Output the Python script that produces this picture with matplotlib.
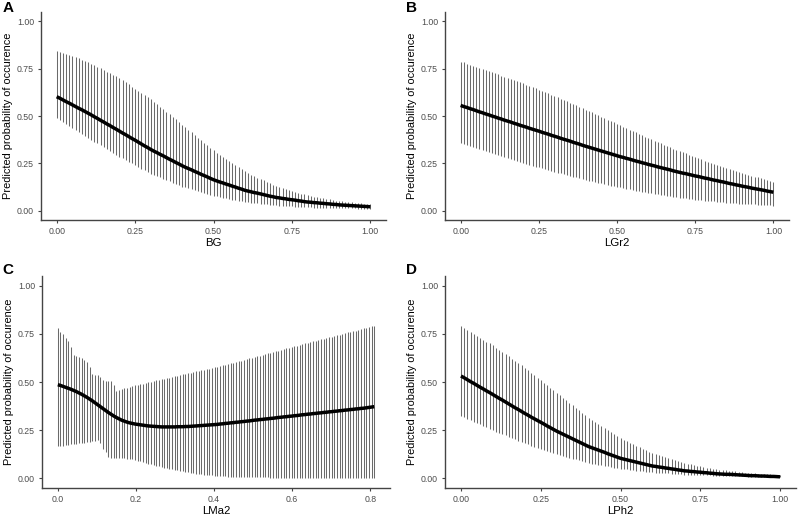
import numpy as np
import matplotlib
matplotlib.use("Agg")
import matplotlib.pyplot as plt

plt.rcParams["font.family"] = ["Liberation Sans", "DejaVu Sans"]

# prediction grids (0..1 by 0.01; LMa2 0..0.81 in 120 steps)
x_unit = np.linspace(0, 1, 101)
x_lma2 = np.linspace(0, 0.81, 120)

# === A: BG ===
bg_fit = [0.602, 0.594, 0.585, 0.576, 0.568, 0.559, 0.550, 0.541, 0.533, 0.524, 0.515,
          0.506, 0.496, 0.487, 0.477, 0.468, 0.458, 0.449, 0.439, 0.430, 0.420,
          0.410, 0.401, 0.391, 0.381, 0.372, 0.362, 0.352, 0.342, 0.333, 0.323,
          0.314, 0.306, 0.297, 0.289, 0.280, 0.271, 0.263, 0.254, 0.246, 0.237,
          0.229, 0.222, 0.215, 0.207, 0.200, 0.192, 0.185, 0.178, 0.170, 0.163,
          0.157, 0.151, 0.146, 0.140, 0.135, 0.129, 0.124, 0.118, 0.113, 0.107,
          0.103, 0.099, 0.095, 0.092, 0.088, 0.084, 0.080, 0.076, 0.073, 0.069,
          0.067, 0.064, 0.062, 0.059, 0.057, 0.055, 0.052, 0.050, 0.047, 0.045,
          0.044, 0.042, 0.041, 0.039, 0.038, 0.036, 0.035, 0.033, 0.032, 0.030,
          0.029, 0.028, 0.027, 0.026, 0.025, 0.024, 0.023, 0.022, 0.021, 0.020]
bg_hi = [0.843, 0.838, 0.833, 0.828, 0.822, 0.816, 0.810, 0.805, 0.798, 0.792, 0.785,
         0.777, 0.769, 0.760, 0.752, 0.743, 0.735, 0.726, 0.718, 0.709, 0.700,
         0.690, 0.679, 0.668, 0.656, 0.645, 0.634, 0.622, 0.611, 0.599, 0.588,
         0.575, 0.562, 0.548, 0.535, 0.522, 0.508, 0.495, 0.482, 0.468, 0.455,
         0.441, 0.428, 0.414, 0.400, 0.386, 0.373, 0.359, 0.345, 0.332, 0.318,
         0.306, 0.294, 0.283, 0.272, 0.261, 0.250, 0.239, 0.228, 0.218, 0.207,
         0.198, 0.190, 0.182, 0.174, 0.166, 0.159, 0.151, 0.144, 0.137, 0.130,
         0.124, 0.119, 0.114, 0.109, 0.104, 0.099, 0.094, 0.089, 0.085, 0.080,
         0.077, 0.074, 0.071, 0.068, 0.065, 0.062, 0.059, 0.056, 0.053, 0.050,
         0.048, 0.046, 0.045, 0.043, 0.042, 0.040, 0.039, 0.037, 0.036, 0.034]
bg_lo = [0.487, 0.477, 0.467, 0.456, 0.446, 0.436, 0.426, 0.416, 0.405, 0.395, 0.385,
         0.375, 0.365, 0.355, 0.345, 0.335, 0.325, 0.315, 0.305, 0.295, 0.285,
         0.276, 0.267, 0.258, 0.249, 0.240, 0.231, 0.222, 0.213, 0.204, 0.195,
         0.188, 0.181, 0.175, 0.168, 0.161, 0.154, 0.147, 0.141, 0.134, 0.127,
         0.122, 0.117, 0.112, 0.107, 0.102, 0.098, 0.093, 0.088, 0.083, 0.078,
         0.075, 0.071, 0.068, 0.065, 0.061, 0.058, 0.055, 0.051, 0.048, 0.045,
         0.043, 0.041, 0.040, 0.038, 0.036, 0.034, 0.032, 0.031, 0.029, 0.027,
         0.026, 0.025, 0.024, 0.023, 0.022, 0.021, 0.020, 0.019, 0.018, 0.017,
         0.017, 0.016, 0.016, 0.015, 0.015, 0.014, 0.014, 0.013, 0.013, 0.012,
         0.012, 0.012, 0.011, 0.011, 0.011, 0.010, 0.010, 0.010, 0.009, 0.009]

# === B: LGr2 ===
lgr2_fit = [0.556, 0.550, 0.545, 0.539, 0.534, 0.528, 0.522, 0.517, 0.511, 0.506, 0.500,
            0.495, 0.489, 0.484, 0.478, 0.473, 0.468, 0.462, 0.457, 0.451, 0.446,
            0.441, 0.435, 0.430, 0.425, 0.420, 0.414, 0.409, 0.404, 0.398, 0.393,
            0.388, 0.382, 0.377, 0.372, 0.367, 0.361, 0.356, 0.351, 0.345, 0.340,
            0.335, 0.330, 0.325, 0.320, 0.315, 0.310, 0.305, 0.300, 0.295, 0.290,
            0.285, 0.281, 0.276, 0.272, 0.267, 0.262, 0.258, 0.253, 0.249, 0.244,
            0.240, 0.236, 0.231, 0.227, 0.223, 0.219, 0.215, 0.210, 0.206, 0.202,
            0.198, 0.195, 0.191, 0.187, 0.183, 0.180, 0.176, 0.172, 0.169, 0.165,
            0.161, 0.158, 0.154, 0.151, 0.147, 0.143, 0.140, 0.136, 0.133, 0.129,
            0.126, 0.123, 0.119, 0.116, 0.113, 0.110, 0.107, 0.103, 0.100, 0.097]
lgr2_hi = [0.788, 0.783, 0.777, 0.772, 0.766, 0.760, 0.755, 0.749, 0.743, 0.738, 0.732,
           0.726, 0.720, 0.714, 0.708, 0.702, 0.696, 0.690, 0.684, 0.678, 0.672,
           0.665, 0.659, 0.652, 0.646, 0.639, 0.632, 0.626, 0.619, 0.613, 0.606,
           0.599, 0.592, 0.584, 0.577, 0.570, 0.563, 0.556, 0.548, 0.541, 0.534,
           0.526, 0.519, 0.511, 0.504, 0.496, 0.488, 0.481, 0.473, 0.466, 0.458,
           0.451, 0.443, 0.436, 0.428, 0.421, 0.414, 0.406, 0.399, 0.391, 0.384,
           0.377, 0.370, 0.363, 0.356, 0.349, 0.342, 0.335, 0.328, 0.321, 0.314,
           0.308, 0.302, 0.295, 0.289, 0.283, 0.277, 0.271, 0.264, 0.258, 0.252,
           0.247, 0.241, 0.236, 0.230, 0.225, 0.220, 0.214, 0.209, 0.203, 0.198,
           0.193, 0.189, 0.184, 0.179, 0.175, 0.170, 0.165, 0.160, 0.156, 0.151]
lgr2_lo = [0.358, 0.352, 0.347, 0.341, 0.336, 0.330, 0.324, 0.319, 0.313, 0.308, 0.302,
           0.297, 0.292, 0.287, 0.282, 0.277, 0.271, 0.266, 0.261, 0.256, 0.251,
           0.246, 0.242, 0.237, 0.232, 0.228, 0.223, 0.218, 0.213, 0.209, 0.204,
           0.200, 0.196, 0.191, 0.187, 0.183, 0.179, 0.175, 0.170, 0.166, 0.162,
           0.158, 0.155, 0.151, 0.147, 0.144, 0.140, 0.136, 0.132, 0.129, 0.125,
           0.122, 0.119, 0.115, 0.112, 0.109, 0.106, 0.103, 0.099, 0.096, 0.093,
           0.091, 0.088, 0.086, 0.083, 0.081, 0.078, 0.076, 0.073, 0.071, 0.068,
           0.066, 0.064, 0.062, 0.060, 0.058, 0.057, 0.055, 0.053, 0.051, 0.049,
           0.048, 0.046, 0.045, 0.044, 0.042, 0.041, 0.040, 0.039, 0.037, 0.036,
           0.035, 0.034, 0.033, 0.032, 0.031, 0.030, 0.029, 0.028, 0.027, 0.026]

# === C: LMa2 ===
lma2_fit = [0.486, 0.482, 0.477, 0.472, 0.467, 0.462, 0.456, 0.450, 0.443, 0.436,
            0.428, 0.420, 0.411, 0.402, 0.392, 0.382, 0.372, 0.362, 0.352, 0.342,
            0.333, 0.324, 0.316, 0.309, 0.302, 0.297, 0.292, 0.288, 0.285, 0.282,
            0.280, 0.278, 0.276, 0.274, 0.272, 0.271, 0.270, 0.269, 0.268, 0.267,
            0.267, 0.267, 0.267, 0.267, 0.267, 0.268, 0.268, 0.268, 0.269, 0.269,
            0.270, 0.271, 0.272, 0.273, 0.274, 0.275, 0.276, 0.277, 0.278, 0.279,
            0.280, 0.282, 0.283, 0.285, 0.286, 0.288, 0.289, 0.291, 0.292, 0.294,
            0.295, 0.297, 0.298, 0.300, 0.302, 0.303, 0.305, 0.306, 0.308, 0.309,
            0.311, 0.312, 0.314, 0.316, 0.317, 0.319, 0.320, 0.322, 0.323, 0.325,
            0.326, 0.328, 0.330, 0.331, 0.333, 0.334, 0.336, 0.337, 0.339, 0.340,
            0.342, 0.343, 0.345, 0.346, 0.348, 0.349, 0.351, 0.352, 0.354, 0.355,
            0.357, 0.358, 0.360, 0.361, 0.363, 0.364, 0.366, 0.368, 0.370, 0.372]
lma2_hi = [0.781, 0.762, 0.750, 0.729, 0.711, 0.684, 0.642, 0.636, 0.632, 0.625,
           0.615, 0.603, 0.577, 0.542, 0.537, 0.534, 0.525, 0.511, 0.504, 0.503,
           0.503, 0.482, 0.451, 0.458, 0.463, 0.467, 0.471, 0.475, 0.478, 0.482,
           0.485, 0.489, 0.492, 0.495, 0.499, 0.502, 0.505, 0.508, 0.511, 0.514,
           0.517, 0.520, 0.523, 0.527, 0.530, 0.533, 0.536, 0.540, 0.543, 0.546,
           0.549, 0.552, 0.555, 0.558, 0.561, 0.564, 0.567, 0.570, 0.573, 0.576,
           0.579, 0.582, 0.586, 0.589, 0.593, 0.596, 0.600, 0.603, 0.607, 0.611,
           0.614, 0.618, 0.622, 0.625, 0.629, 0.633, 0.637, 0.641, 0.644, 0.648,
           0.652, 0.656, 0.659, 0.663, 0.667, 0.671, 0.674, 0.678, 0.682, 0.686,
           0.689, 0.693, 0.697, 0.700, 0.704, 0.708, 0.711, 0.715, 0.718, 0.722,
           0.725, 0.729, 0.732, 0.736, 0.739, 0.743, 0.746, 0.750, 0.753, 0.757,
           0.760, 0.764, 0.767, 0.771, 0.774, 0.778, 0.781, 0.785, 0.788, 0.791]
lma2_lo = [0.167, 0.168, 0.170, 0.172, 0.174, 0.176, 0.178, 0.180, 0.182, 0.184,
           0.186, 0.188, 0.190, 0.193, 0.196, 0.198, 0.185, 0.150, 0.138, 0.112,
           0.104, 0.104, 0.105, 0.106, 0.106, 0.105, 0.103, 0.101, 0.098, 0.095,
           0.092, 0.088, 0.085, 0.081, 0.077, 0.074, 0.070, 0.066, 0.063, 0.059,
           0.056, 0.053, 0.050, 0.047, 0.044, 0.041, 0.038, 0.036, 0.033, 0.031,
           0.029, 0.027, 0.025, 0.023, 0.021, 0.019, 0.018, 0.016, 0.015, 0.014,
           0.013, 0.012, 0.011, 0.010, 0.009, 0.009, 0.008, 0.007, 0.007, 0.006,
           0.006, 0.005, 0.005, 0.005, 0.005, 0.005, 0.005, 0.005, 0.005, 0.005,
           0.004, 0.004, 0.004, 0.004, 0.004, 0.004, 0.004, 0.004, 0.004, 0.004,
           0.004, 0.004, 0.004, 0.004, 0.004, 0.004, 0.004, 0.004, 0.004, 0.004,
           0.003, 0.003, 0.003, 0.003, 0.003, 0.003, 0.003, 0.003, 0.003, 0.003,
           0.003, 0.003, 0.003, 0.003, 0.003, 0.003, 0.003, 0.003, 0.003, 0.003]

# === D: LPh2 ===
lph2_fit = [0.531, 0.522, 0.512, 0.502, 0.493, 0.483, 0.473, 0.464, 0.454, 0.445, 0.435,
            0.425, 0.415, 0.406, 0.396, 0.386, 0.376, 0.366, 0.357, 0.347, 0.337,
            0.328, 0.318, 0.309, 0.300, 0.291, 0.282, 0.272, 0.263, 0.254, 0.245,
            0.237, 0.229, 0.221, 0.213, 0.205, 0.197, 0.189, 0.181, 0.173, 0.165,
            0.159, 0.153, 0.147, 0.141, 0.135, 0.128, 0.122, 0.116, 0.110, 0.104,
            0.100, 0.096, 0.092, 0.088, 0.084, 0.080, 0.076, 0.072, 0.068, 0.064,
            0.062, 0.059, 0.057, 0.054, 0.052, 0.049, 0.047, 0.044, 0.042, 0.039,
            0.038, 0.036, 0.035, 0.033, 0.032, 0.030, 0.029, 0.027, 0.026, 0.024,
            0.023, 0.022, 0.021, 0.021, 0.020, 0.019, 0.018, 0.017, 0.016, 0.015,
            0.014, 0.014, 0.013, 0.012, 0.012, 0.011, 0.010, 0.010, 0.009, 0.008]
lph2_hi = [0.790, 0.781, 0.771, 0.761, 0.751, 0.741, 0.730, 0.720, 0.710, 0.700, 0.690,
           0.679, 0.667, 0.656, 0.644, 0.633, 0.621, 0.610, 0.598, 0.587, 0.575,
           0.562, 0.549, 0.536, 0.523, 0.510, 0.497, 0.484, 0.471, 0.458, 0.445,
           0.432, 0.419, 0.406, 0.393, 0.380, 0.367, 0.354, 0.341, 0.328, 0.315,
           0.304, 0.293, 0.283, 0.272, 0.261, 0.251, 0.240, 0.229, 0.219, 0.208,
           0.200, 0.192, 0.185, 0.177, 0.169, 0.161, 0.153, 0.146, 0.138, 0.130,
           0.125, 0.120, 0.114, 0.109, 0.104, 0.099, 0.094, 0.088, 0.083, 0.078,
           0.075, 0.072, 0.069, 0.066, 0.063, 0.059, 0.056, 0.053, 0.050, 0.047,
           0.045, 0.043, 0.041, 0.039, 0.038, 0.036, 0.034, 0.032, 0.030, 0.028,
           0.027, 0.026, 0.025, 0.024, 0.023, 0.022, 0.021, 0.019, 0.018, 0.017]
lph2_lo = [0.325, 0.317, 0.310, 0.302, 0.295, 0.287, 0.280, 0.272, 0.265, 0.257, 0.250,
           0.243, 0.236, 0.230, 0.223, 0.216, 0.209, 0.202, 0.196, 0.189, 0.182,
           0.176, 0.170, 0.164, 0.159, 0.153, 0.147, 0.141, 0.135, 0.130, 0.124,
           0.120, 0.115, 0.111, 0.106, 0.102, 0.098, 0.093, 0.089, 0.084, 0.080,
           0.077, 0.074, 0.071, 0.068, 0.065, 0.062, 0.059, 0.056, 0.053, 0.050,
           0.048, 0.046, 0.044, 0.042, 0.040, 0.039, 0.037, 0.035, 0.033, 0.031,
           0.030, 0.029, 0.028, 0.027, 0.026, 0.025, 0.024, 0.022, 0.021, 0.020,
           0.019, 0.019, 0.018, 0.017, 0.017, 0.016, 0.015, 0.015, 0.014, 0.013,
           0.013, 0.012, 0.012, 0.012, 0.011, 0.011, 0.010, 0.010, 0.010, 0.009,
           0.009, 0.009, 0.008, 0.008, 0.008, 0.007, 0.007, 0.007, 0.006, 0.006]

yticks = [0.0, 0.25, 0.5, 0.75, 1.0]
ytick_labels = ["0.00", "0.25", "0.50", "0.75", "1.00"]
unit_ticks = [0.0, 0.25, 0.5, 0.75, 1.0]
unit_labels = ["0.00", "0.25", "0.50", "0.75", "1.00"]
lma2_ticks = [0.0, 0.2, 0.4, 0.6, 0.8]
lma2_labels = ["0.0", "0.2", "0.4", "0.6", "0.8"]

# panel letter, x title, data, ticks, axes box (px: left, top, width, height), letter pos
panels = [
    ("A", "BG", x_unit, bg_fit, bg_lo, bg_hi, unit_ticks, unit_labels,
     [41, 12, 345, 208], (3, 1)),
    ("B", "LGr2", x_unit, lgr2_fit, lgr2_lo, lgr2_hi, unit_ticks, unit_labels,
     [445, 12, 344, 208], (406, 1)),
    ("C", "LMa2", x_lma2, lma2_fit, lma2_lo, lma2_hi, lma2_ticks, lma2_labels,
     [42, 276, 348, 212], (2, 263)),
    ("D", "LPh2", x_unit, lph2_fit, lph2_lo, lph2_hi, unit_ticks, unit_labels,
     [445, 276, 351, 212], (406, 263)),
]

W, H = 800, 519
fig = plt.figure(figsize=(W / 100, H / 100), dpi=100)

for letter, xlabel, x, fit, lo, hi, xt, xtl, box, lpos in panels:
    left, top, w, h = box
    ax = fig.add_axes([left / W, (H - top - h) / H, w / W, h / H])
    ax.vlines(x, lo, hi, color="#6a6a6a", linewidth=0.75)
    ax.plot(x, fit, color="black", linewidth=2.5, solid_capstyle="butt")
    span = x[-1] - x[0]
    ax.set_xlim(x[0] - 0.05 * span, x[-1] + 0.05 * span)
    ax.set_ylim(-0.05, 1.05)
    ax.set_xticks(xt)
    ax.set_xticklabels(xtl)
    ax.set_yticks(yticks)
    ax.set_yticklabels(ytick_labels)
    for s in ["top", "right"]:
        ax.spines[s].set_visible(False)
    for s in ["left", "bottom"]:
        ax.spines[s].set_color("#444444")
        ax.spines[s].set_linewidth(1.0)
    ax.tick_params(axis="both", length=2.5, width=0.8, color="#444444",
                   labelsize=6.3, labelcolor="#4d4d4d", pad=2.5)
    ax.set_xlabel(xlabel, fontsize=8.2, color="black", labelpad=1.5)
    ax.set_ylabel("Predicted probability of occurence", fontsize=7.9,
                  color="black", labelpad=3)
    fig.text(lpos[0] / W, 1 - lpos[1] / H, letter, fontsize=11,
             fontweight="bold", va="top", ha="left")

fig.savefig("out.png", dpi=100)
